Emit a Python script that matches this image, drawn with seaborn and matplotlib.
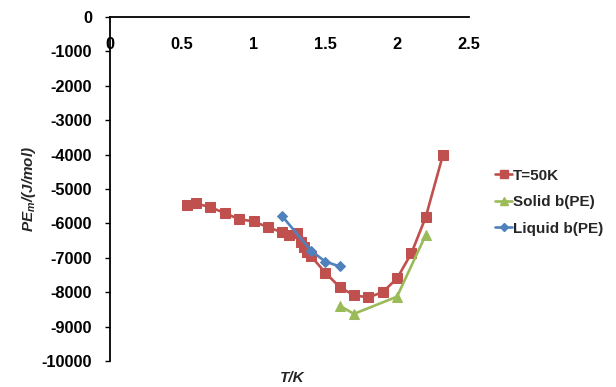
import matplotlib
matplotlib.use("Agg")
import matplotlib.pyplot as plt
from matplotlib.lines import Line2D
import seaborn as sns
import pandas as pd

# Potential energy per mole vs reduced temperature
t50_T = [0.54, 0.6, 0.7, 0.8, 0.9, 1.0, 1.1, 1.2, 1.25, 1.3, 1.33, 1.35, 1.37, 1.4,
         1.5, 1.6, 1.7, 1.8, 1.9, 2.0, 2.1, 2.2, 2.32]
t50_PE = [-5460, -5420, -5530, -5700, -5880, -5940, -6110, -6260, -6340, -6290, -6530,
          -6680, -6820, -6950, -7430, -7850, -8090, -8150, -8000, -7600, -6870, -5820, -4010]

solid_T = [1.6, 1.7, 2.0, 2.2]
solid_PE = [-8390, -8630, -8130, -6340]

liquid_T = [1.2, 1.4, 1.5, 1.6]
liquid_PE = [-5790, -6790, -7110, -7250]

series_names = ["T=50K", "Solid b(PE)", "Liquid b(PE)"]
colors = ["#C0504D", "#9BBB59", "#4F81BD"]
markers = ["s", "^", "D"]
marker_sizes = [7, 7.5, 5.5]

x_ticks = [0, 0.5, 1, 1.5, 2, 2.5]
x_tick_labels = ["0", "0.5", "1", "1.5", "2", "2.5"]
y_ticks = list(range(-10000, 1, 1000))

df = pd.concat([
    pd.DataFrame({"T": t50_T, "PE": t50_PE, "series": series_names[0]}),
    pd.DataFrame({"T": solid_T, "PE": solid_PE, "series": series_names[1]}),
    pd.DataFrame({"T": liquid_T, "PE": liquid_PE, "series": series_names[2]}),
], ignore_index=True)

sns.set_style("white")
plt.rcParams["font.family"] = ["Liberation Sans", "DejaVu Sans"]
plt.rcParams["axes.unicode_minus"] = False
plt.rcParams["mathtext.fontset"] = "custom"
plt.rcParams["mathtext.it"] = "Liberation Sans:italic:bold"
plt.rcParams["mathtext.rm"] = "Liberation Sans:bold"

FS = 11.8

fig = plt.figure(figsize=(6.16, 3.87), dpi=100)
ax = fig.add_axes([110 / 616, 1 - 361 / 387, 358.75 / 616, 344 / 387])

for name, col, mk, ms in zip(series_names, colors, markers, marker_sizes):
    sub = df[df["series"] == name]
    sns.lineplot(data=sub, x="T", y="PE", ax=ax, color=col, marker=mk,
                 markersize=ms, markeredgecolor=col, linewidth=1.9,
                 legend=False, sort=False)

ax.set_xlim(0, 2.5)
ax.set_ylim(-10000, 0)
ax.set_xticks(x_ticks)
ax.set_xticklabels(x_tick_labels)
ax.set_yticks(y_ticks)

for side in ["right", "top"]:
    ax.spines[side].set_visible(False)
ax.spines["bottom"].set_position(("data", 0))
for side in ["left", "bottom"]:
    ax.spines[side].set_color("black")
    ax.spines[side].set_linewidth(1.3)

ax.tick_params(axis="x", direction="in", length=4, width=1, colors="black",
               labelsize=FS, pad=14.5)
ax.tick_params(axis="y", direction="out", length=3.5, width=1, colors="black",
               labelsize=FS, pad=9.5, left=True)
for lbl in ax.get_xticklabels() + ax.get_yticklabels():
    lbl.set_fontweight("bold")

ax.set_xlabel("T/K", fontsize=11, fontweight="bold", fontstyle="italic")
ax.xaxis.set_label_coords((292 - 110) / 358.75, -0.028)
ax.set_ylabel("$PE_{m}$/(J/mol)", fontsize=11, fontweight="bold",
              fontstyle="italic")
ax.yaxis.set_label_coords(-(110 - 38) / 358.75, 0.5)

handles = [Line2D([0], [0], color=c, marker=m, markersize=ms * 0.8,
                  markeredgecolor=c, linewidth=1.9)
           for c, m, ms in zip(colors, markers, marker_sizes)]
leg = ax.legend(handles, series_names, loc="center left",
                bbox_to_anchor=((481 - 110) / 358.75, 0.462), frameon=False,
                handlelength=1.15, handletextpad=0.05, labelspacing=0.82,
                prop={"size": 11, "weight": "bold"})

fig.savefig("out.png", dpi=100, facecolor="white")
